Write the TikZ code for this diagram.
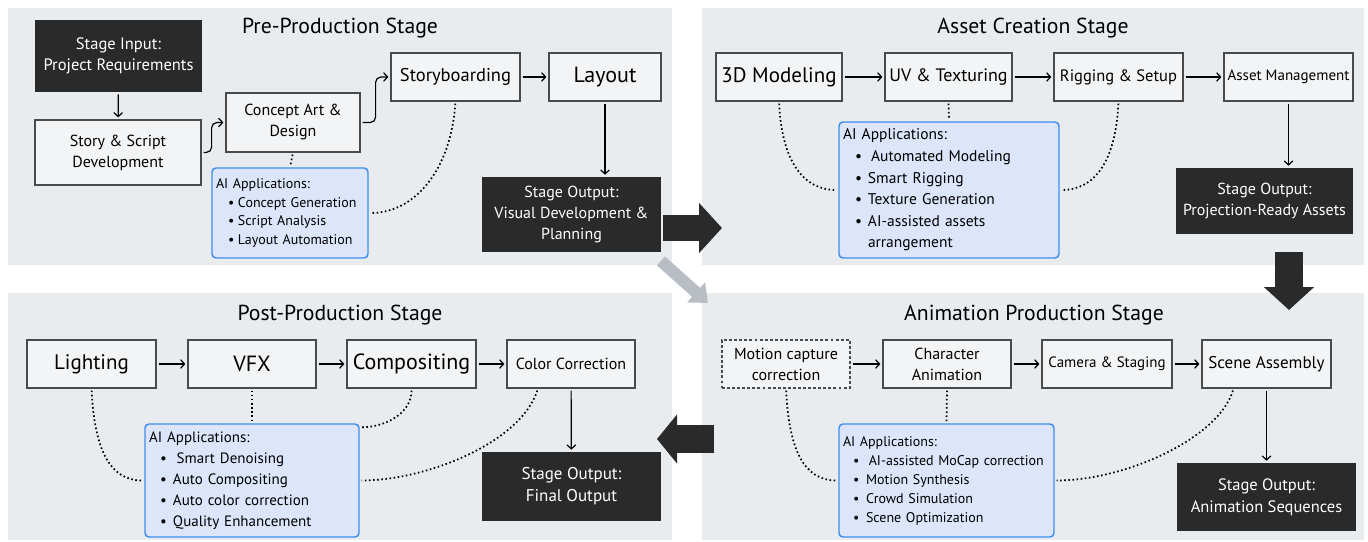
\documentclass[tikz,border=0pt]{standalone}
\usepackage{fontspec}
\setmainfont{PT Sans}
\usetikzlibrary{arrows.meta,calc}

\definecolor{panelc}{HTML}{E9ECEE}
\definecolor{boxc}{HTML}{F3F4F5}
\definecolor{boxline}{HTML}{4A4A4A}
\definecolor{darkc}{HTML}{2A2A2A}
\definecolor{aifill}{HTML}{DCE5FA}
\definecolor{aiborder}{HTML}{3F8CEB}
\definecolor{grayarrow}{HTML}{B9BEC4}

% font size given in pixels (1px = 0.75pt)
\newcommand\fpx[2]{\fontsize{\fpeval{0.75*#1}pt}{\fpeval{0.75*#2}pt}\selectfont}
% bullet line inside an AI box: indent, bullet box width
\newcommand\bl[2]{\hspace*{#1}\makebox[#2][l]{\textbullet}}

\tikzset{
  w/.style={minimum width=#1*0.75pt},
  h/.style={minimum height=#1*0.75pt},
  tw/.style={text width=#1*0.75pt},
  panel/.style={fill=panelc, draw=none, inner sep=0pt},
  title/.style={inner sep=0pt},
  box/.style={draw=boxline, fill=boxc, line width=0.9pt, align=center, inner sep=0pt},
  darkbox/.style={fill=darkc, draw=none, text=white, align=center, inner sep=0pt},
  aibox/.style={draw=aiborder, fill=aifill, line width=1.1pt, rounded corners=3pt,
    align=left, inner sep=0pt, inner xsep=3pt},
  flow/.style={-{Straight Barb[length=3pt,width=6.5pt]}, line width=0.9pt, black,
    shorten <=1.5pt, shorten >=1.5pt},
  dots/.style={line width=1.3pt, dash pattern=on 1.2pt off 1.9pt, shorten <=1.5pt, shorten >=1.5pt},
}

\begin{document}
\begin{tikzpicture}[x=0.75pt, y=-0.75pt]
\useasboundingbox (0,0) rectangle (1368,542);

% stage panels
\node[panel, w=664, h=257] (p1) at (340,136.5) {};
\node[panel, w=662, h=257] (p2) at (1033,136.5) {};
\node[panel, w=664, h=247] (p3) at (340,416.5) {};
\node[panel, w=662, h=247] (p4) at (1033,416.5) {};

\node[title, font=\fpx{21.7}{26}] (t1) at (340,28) {Pre-Production Stage};
\node[title, font=\fpx{21.7}{26}] (t2) at (1033,28) {Asset Creation Stage};
\node[title, font=\fpx{21.7}{26}] (t3) at (340,315) {Post-Production Stage};
\node[title, font=\fpx{21.7}{26}] (t4) at (1034,315) {Animation Production Stage};

% ---------- Pre-production ----------
\node[darkbox, w=167, h=72, font=\fpx{16.5}{21}] (in) at (118.5,56) {Stage Input:\\Project Requirements};
\node[box, w=166, h=65, font=\fpx{16}{21}] (story) at (118,152.5) {Story \& Script\\Development};
\node[box, w=134, h=59, font=\fpx{16}{21}] (concept) at (293,122.5) {Concept Art \&\\Design};
\node[box, w=129, h=48, font=\fpx{18.5}{22}] (sb) at (455.5,77) {Storyboarding};
\node[box, w=112, h=48, font=\fpx{22}{26}] (layout) at (605,77) {Layout};
\node[darkbox, w=179, h=75, font=\fpx{16}{21}] (out1) at (571.5,214.5) {Stage Output:\\Visual Development \&\\Planning};
\node[aibox, tw=148, h=90, font=\fpx{14}{18.7}] (ai1) at (290,213) {AI Applications:\\
  \bl{9pt}{7.5pt}Concept Generation\\
  \bl{9pt}{7.5pt}Script Analysis\\
  \bl{9pt}{7.5pt}Layout Automation};

\draw[flow] (in) -- (story);
\draw[flow, rounded corners=4pt] (story.east) -- ++(10,0) |- (concept.west);
\draw[flow, rounded corners=4pt] (concept.east) -- ++(15,0) |- (sb.west);
\draw[flow] (sb) -- (layout);
\draw[flow] (layout.south) -- (layout.south |- out1.north);
\draw[dots] (concept.south) -- (ai1.north);
\draw[dots] (sb.south) .. controls +(-5,70) and +(45,0) .. (ai1.east);

% ---------- Asset creation ----------
\node[box, w=126, h=48, font=\fpx{21}{26}] (dm) at (779,77) {3D Modeling};
\node[box, w=127, h=48, font=\fpx{18}{22}] (uv) at (948.5,77) {UV \& Texturing};
\node[box, w=129, h=48, font=\fpx{16.5}{20}] (rig) at (1118.5,77) {Rigging \& Setup};
\node[box, w=129, h=48, font=\fpx{15}{19}] (am) at (1288.5,77) {Asset Management};
\node[darkbox, w=177, h=66, font=\fpx{16}{21}] (out2) at (1264.5,201) {Stage Output:\\Projection-Ready Assets};
\node[aibox, tw=212, h=136, font=\fpx{15.5}{21.6}] (ai2) at (949,190) {AI Applications:\\
  \bl{9pt}{9.75pt}\hspace{0.2em}Automated Modeling\\
  \bl{9pt}{9.75pt}Smart Rigging\\
  \bl{9pt}{9.75pt}Texture Generation\\
  \bl{9pt}{9.75pt}AI-assisted assets\\
  \hspace*{18.75pt}arrangement};

\draw[flow] (dm) -- (uv);
\draw[flow] (uv) -- (rig);
\draw[flow] (rig) -- (am);
\draw[flow] (am.south) -- (am.south |- out2.north);
\draw[dots] (uv.south) -- (ai2.north);
\draw[dots] (dm.south) .. controls +(3,60) and +(-35,0) .. (ai2.west);
\draw[dots] (rig.south) .. controls +(-3,60) and +(35,0) .. (ai2.east);

% ---------- Post-production ----------
\node[box, w=129, h=48, font=\fpx{21}{25}] (light) at (91.5,364) {Lighting};
\node[box, w=128, h=48, font=\fpx{22}{26}] (vfx) at (252,364) {VFX};
\node[box, w=129, h=48, font=\fpx{22}{26}] (comp) at (411.5,364) {Compositing};
\node[box, w=128, h=48, font=\fpx{16}{20}] (cc) at (571,364) {Color Correction};
\node[darkbox, w=179, h=69, font=\fpx{17}{22}] (out3) at (571.5,486.5) {Stage Output:\\Final Output};
\node[aibox, tw=206, h=113, font=\fpx{15}{21}] (ai3) at (252,480.5) {AI Applications:\\
  \bl{8.25pt}{9.75pt}\hspace{0.25em}Smart Denoising\\
  \bl{8.25pt}{9.75pt}Auto Compositing\\
  \bl{8.25pt}{9.75pt}Auto color correction\\
  \bl{8.25pt}{9.75pt}Quality Enhancement};

\draw[flow] (light) -- (vfx);
\draw[flow] (vfx) -- (comp);
\draw[flow] (comp) -- (cc);
\draw[flow] (cc) -- (out3);
\draw[dots] (vfx.south) -- (ai3.north);
\draw[dots] (light.south) .. controls +(3,60) and +(-35,0) .. (ai3.west);
\draw[dots] (comp.south) .. controls +(0,25) and +(25,0) .. ($(ai3.north east)+(0,4)$);
\draw[dots] ($(cc.south)+(-33,0)$) .. controls +(-18,55) and +(65,0) .. (ai3.east);

% ---------- Animation production ----------
\node[box, w=128, h=48, font=\fpx{16}{21}, dash pattern=on 2.2pt off 1.6pt] (mc) at (786,364) {Motion capture\\correction};
\node[box, w=128, h=48, font=\fpx{16}{21}] (ca) at (947,364) {Character\\Animation};
\node[box, w=130, h=48, font=\fpx{15}{19}] (cs) at (1107,364) {Camera \& Staging};
\node[box, w=129, h=48, font=\fpx{17}{21}] (sa) at (1266.5,364) {Scene Assembly};
\node[darkbox, w=179, h=68, font=\fpx{16.5}{22}] (out4) at (1266.5,497) {Stage Output:\\Animation Sequences};
\node[aibox, tw=207, h=113, font=\fpx{14}{19}] (ai4) at (946.5,480.5) {AI Applications:\\
  \bl{7.5pt}{9.75pt}\hspace{0.2em}AI-assisted MoCap correction\\
  \bl{7.5pt}{9.75pt}Motion Synthesis\\
  \bl{7.5pt}{9.75pt}Crowd Simulation\\
  \bl{7.5pt}{9.75pt}Scene Optimization};

\draw[flow] (mc) -- (ca);
\draw[flow] (ca) -- (cs);
\draw[flow] (cs) -- (sa);
\draw[flow] (sa) -- (out4);
\draw[dots] (ca.south) -- (ai4.north);
\draw[dots] (mc.south) .. controls +(3,60) and +(-35,0) .. (ai4.west);
\draw[dots] ($(sa.south)+(-33,0)$) .. controls +(-15,50) and +(70,0) .. (ai4.east);

% ---------- stage-to-stage block arrows ----------
\draw[darkc, line width=19.5pt, -{Triangle[length=17.25pt,width=36.75pt]}] (663,228) -- (722,228);
\draw[darkc, line width=21pt, -{Triangle[length=17.25pt,width=36.75pt]}] (1289,252) -- (1289,310);
\draw[darkc, line width=21pt, -{Triangle[length=15pt,width=36pt]}] (714,439) -- (657,439);
\draw[grayarrow, line width=9pt, -{Triangle[length=12pt,width=19.5pt]}] (661,261) -- (708,303);
\end{tikzpicture}
\end{document}
